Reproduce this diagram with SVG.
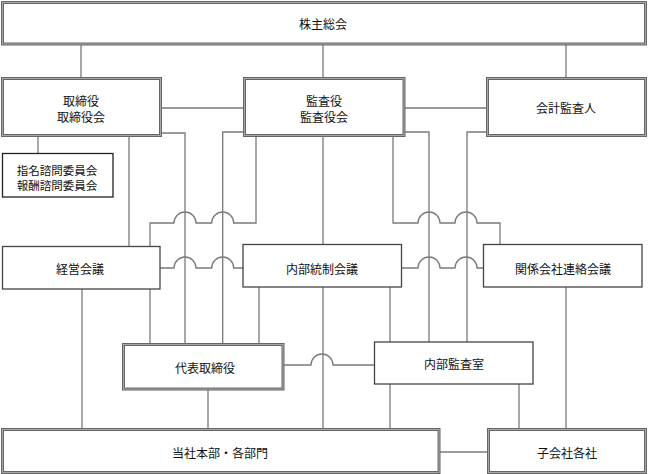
<svg xmlns="http://www.w3.org/2000/svg" width="648" height="474" viewBox="0 0 648 474">
<style>
.bg{fill:#fff}
.dbl{fill:#fff;stroke:#666;stroke-width:3}
.dbl-in{fill:none;stroke:#a8a8a8;stroke-width:1}
.sgl{fill:#fff;stroke:#444;stroke-width:1.3}
.c{fill:none;stroke:#7a7a7a;stroke-width:1.3}
text{font-family:"Noto Sans CJK JP","Noto Sans CJK SC",sans-serif;font-size:12px;fill:#111;text-anchor:middle;dominant-baseline:central}
.s{font-size:11.5px}
</style>
<rect class="bg" x="0" y="0" width="648" height="474"/>
<g id="connectors">
<path class="c" d="M81,44V78M323,44V78M566,44V78"/>
<path class="c" d="M160,108H244M404,108H487"/>
<path class="c" d="M38,135V153"/>
<path class="c" d="M129,135V246"/>
<path class="c" d="M160,133H185V344"/>
<path class="c" d="M244,132H222.7V344"/>
<path class="c" d="M256,135V223H233.7A11,11 0 0 0 211.7,223H196A11,11 0 0 0 174,223H150V246"/>
<path class="c" d="M323,135V244"/>
<path class="c" d="M393,135V223H418A11,11 0 0 1 440,223H455A11,11 0 0 1 477,223H500V244"/>
<path class="c" d="M404,132H429V342"/>
<path class="c" d="M487,132H467V342"/>
<path class="c" d="M160,268H174A11,11 0 0 1 196,268H211.7A11,11 0 0 1 233.7,268H243"/>
<path class="c" d="M402,268H418A11,11 0 0 1 440,268H455A11,11 0 0 1 477,268H483"/>
<path class="c" d="M82,289V429M150,289V344"/>
<path class="c" d="M259,287V344M323,287V429M390,287V342"/>
<path class="c" d="M566,287V429"/>
<path class="c" d="M283,365H311A11,11 0 0 1 333,365H374"/>
<path class="c" d="M208,389V429M390,384V429M519,384V429"/>
<path class="c" d="M439,452H488"/>
</g>
<g id="n-kabunushi">
<rect class="dbl" x="2.5" y="2.5" width="643" height="41.5"/><rect class="dbl-in" x="2.5" y="2.5" width="643" height="41.5"/>
<text x="323" y="23">株主総会</text>
</g>
<g id="n-torishimariyaku">
<rect class="dbl" x="2.5" y="78.5" width="158" height="57"/><rect class="dbl-in" x="2.5" y="78.5" width="158" height="57"/>
<text x="81" y="100">取締役</text><text x="81" y="116">取締役会</text>
</g>
<g id="n-kansayaku">
<rect class="dbl" x="244.5" y="78.5" width="159.5" height="57"/><rect class="dbl-in" x="244.5" y="78.5" width="159.5" height="57"/>
<text x="324" y="100">監査役</text><text x="324" y="116">監査役会</text>
</g>
<g id="n-kaikei">
<rect class="dbl" x="487.5" y="78.5" width="158" height="57"/><rect class="dbl-in" x="487.5" y="78.5" width="158" height="57"/>
<text x="566" y="107">会計監査人</text>
</g>
<g id="n-shimei">
<rect class="sgl" x="2.5" y="153.5" width="110.5" height="43.5" style="stroke:#222"/>
<text class="s" x="57" y="169.5">指名諮問委員会</text><text class="s" x="57" y="185">報酬諮問委員会</text>
</g>
<g id="n-keiei">
<rect class="sgl" x="2.5" y="246.5" width="157.5" height="42.5"/>
<text x="80" y="268">経営会議</text>
</g>
<g id="n-naibutousei">
<rect class="sgl" x="243" y="244.5" width="158.5" height="42.5"/>
<text x="322" y="268">内部統制会議</text>
</g>
<g id="n-kankei">
<rect class="sgl" x="483.5" y="244.5" width="158.5" height="42.5"/>
<text x="563" y="268">関係会社連絡会議</text>
</g>
<g id="n-daihyo">
<rect class="dbl" x="123.5" y="344.5" width="159.5" height="44.5"/><rect class="dbl-in" x="123.5" y="344.5" width="159.5" height="44.5"/>
<text x="205" y="367">代表取締役</text>
</g>
<g id="n-naibukansa">
<rect class="sgl" x="374.5" y="342" width="158.5" height="42"/>
<text x="454" y="363">内部監査室</text>
</g>
<g id="n-honbu">
<rect class="dbl" x="2.5" y="429.5" width="436.5" height="43"/><rect class="dbl-in" x="2.5" y="429.5" width="436.5" height="43"/>
<text x="220" y="452">当社本部・各部門</text>
</g>
<g id="n-kogaisha">
<rect class="dbl" x="488.5" y="429.5" width="157" height="43"/><rect class="dbl-in" x="488.5" y="429.5" width="157" height="43"/>
<text x="567" y="452">子会社各社</text>
</g>
</svg>
